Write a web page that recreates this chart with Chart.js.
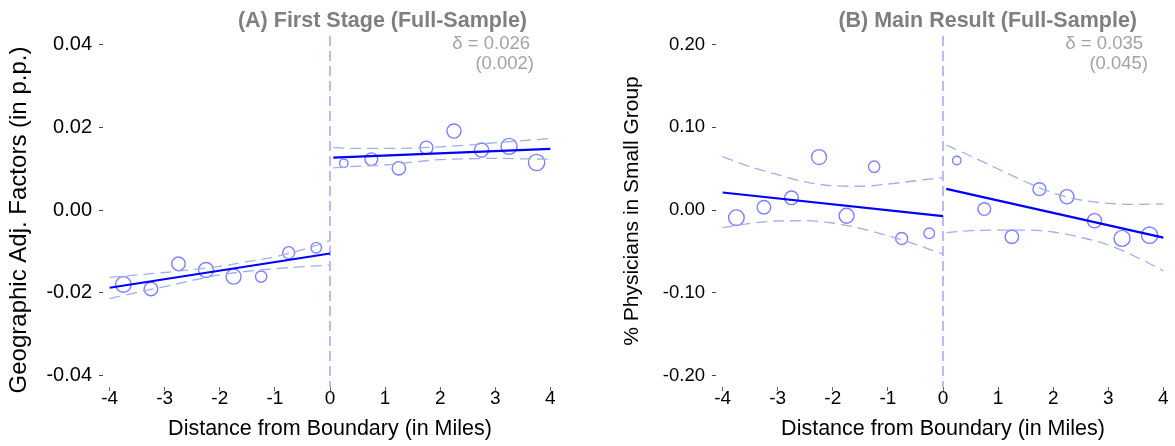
<!DOCTYPE html>
<html>
<head>
<meta charset="utf-8">
<script src="https://cdn.jsdelivr.net/npm/chart.js@4.4.1/dist/chart.umd.min.js"></script>
<style>
  html, body { margin: 0; padding: 0; background: #fff; overflow: hidden; }
  #wrap { position: relative; width: 1175px; height: 446px; overflow: hidden; }
  #panelA { position: absolute; left: 0; top: 0; }
  #panelB { position: absolute; left: 587px; top: 0; }
</style>
</head>
<body>
<div id="wrap">
  <canvas id="panelA" width="587" height="446"></canvas>
  <canvas id="panelB" width="600" height="446"></canvas>
</div>
<script>
// bins of distance from the boundary (miles)
const binCenters = [-3.75, -3.25, -2.75, -2.25, -1.75, -1.25, -0.75, -0.25,
                    0.25, 0.75, 1.25, 1.75, 2.25, 2.75, 3.25, 3.75];
// relative number of observations per bin (marker area)
const binObs = [61, 46, 46, 56, 56, 32, 36, 28, 18, 40, 45, 42, 50, 50, 64, 66];

const xTicks = [-4, -3, -2, -1, 0, 1, 2, 3, 4];
const xRange = [-4.12, 4.12];

// grids for fitted lines / confidence bands
const bandXLeft = [-4, -3.5, -3, -2.5, -2, -1.5, -1, -0.5, 0];
const bandXRight = [0.06, 0.5, 1, 1.5, 2, 2.5, 3, 3.5, 4];
const fitXLeft = [-4, 0];
const fitXRight = [0.06, 4];

// (A) first stage: geographic adjustment factors
const gafMeans = [-0.0180, -0.0191, -0.0130, -0.0145, -0.0161, -0.0161, -0.0103, -0.0091,
                  0.0113, 0.0123, 0.0101, 0.0151, 0.0191, 0.0145, 0.0154, 0.0115];
const gafFitLeft = [-0.0188, -0.0105];
const gafFitRight = [0.0127, 0.0148];
const gafUpperLeft = [-0.0163, -0.0157, -0.0151, -0.0144, -0.0136, -0.0125, -0.0113, -0.0096, -0.0074];
const gafLowerLeft = [-0.0214, -0.0199, -0.0185, -0.0170, -0.0157, -0.0148, -0.0142, -0.0137, -0.0133];
const gafUpperRight = [0.0151, 0.0149, 0.0149, 0.0150, 0.0153, 0.0157, 0.0163, 0.0168, 0.0173];
const gafLowerRight = [0.0102, 0.0106, 0.0109, 0.0116, 0.0122, 0.0124, 0.0125, 0.0124, 0.0123];
const gafTicks = [-0.04, -0.02, 0, 0.02, 0.04];
const gafRange = [-0.0428, 0.0421];

// (B) main result: share of physicians in small groups
const sgMeans = [-0.0093, 0.0033, 0.0147, 0.0640, -0.0069, 0.0524, -0.0345, -0.0282,
                 0.0598, 0.0012, -0.0323, 0.0252, 0.0161, -0.0129, -0.0343, -0.0304];
const sgFitLeft = [0.0212, -0.0073];
const sgFitRight = [0.0256, -0.0334];
const sgUpperLeft = [0.0645, 0.0524, 0.0427, 0.0339, 0.0294, 0.0287, 0.0314, 0.0354, 0.0391];
const sgLowerLeft = [-0.0214, -0.0161, -0.0133, -0.0129, -0.0157, -0.0222, -0.0311, -0.0415, -0.0532];
const sgUpperRight = [0.0786, 0.0653, 0.0496, 0.0342, 0.0206, 0.0121, 0.0081, 0.0069, 0.0073];
const sgLowerRight = [-0.0274, -0.0250, -0.0242, -0.0242, -0.0266, -0.0330, -0.0423, -0.0565, -0.0734];
const sgTicks = [-0.2, -0.1, 0, 0.1, 0.2];
const sgRange = [-0.214, 0.2104];

const FONT = '"Liberation Sans", Arial, Helvetica, sans-serif';

const pts = (xs, ys) => xs.map((x, i) => ({ x, y: ys[i] }));

// dashed boundary line, titles and the delta annotation
const panelText = {
  id: "panelText",
  beforeDatasetsDraw(chart, args, o) {
    const { ctx, chartArea } = chart;
    const x0 = chart.scales.x.getPixelForValue(0);
    ctx.save();
    ctx.strokeStyle = "#8c8cff";
    ctx.lineWidth = 1.2;
    ctx.setLineDash([10, 5]);
    ctx.beginPath();
    ctx.moveTo(x0, chartArea.top);
    ctx.lineTo(x0, chartArea.bottom);
    ctx.stroke();
    ctx.restore();
  },
  afterDraw(chart, args, o) {
    const { ctx, chartArea } = chart;
    ctx.save();
    ctx.textBaseline = "middle";
    ctx.textAlign = "right";
    ctx.fillStyle = "#7f7f7f";
    ctx.font = "bold 21.5px " + FONT;
    ctx.fillText(o.title, o.titleRight, 21);
    ctx.fillStyle = "#a3a3a3";
    ctx.font = "18.5px " + FONT;
    ctx.fillText("\u03B4 = " + o.delta, o.deltaRight, 44);
    ctx.fillText("(" + o.se + ")", o.seRight, 64);

    ctx.fillStyle = "#000";
    ctx.textAlign = "center";
    ctx.font = "21.5px " + FONT;
    ctx.fillText(o.xTitle, (chartArea.left + chartArea.right) / 2, 429);
    ctx.translate(o.yTitleX, o.yTitleY);
    ctx.rotate(-Math.PI / 2);
    ctx.font = o.yTitleSize + "px " + FONT;
    ctx.fillText(o.yTitle, 0, 0);
    ctx.restore();
  },
};

function makePanel(id, p) {
  const dash = (data) => ({
    data, showLine: true, pointRadius: 0, borderColor: "#9db2ea",
    borderWidth: 1.3, borderDash: [11, 6], cubicInterpolationMode: "monotone",
  });
  const fit = (data) => ({
    data, showLine: true, pointRadius: 0, borderColor: "#0000ff", borderWidth: 2.2,
  });

  return new Chart(document.getElementById(id).getContext("2d"), {
    type: "scatter",
    data: {
      datasets: [
        dash(pts(bandXLeft, p.upperLeft)),
        dash(pts(bandXLeft, p.lowerLeft)),
        dash(pts(bandXRight, p.upperRight)),
        dash(pts(bandXRight, p.lowerRight)),
        fit(pts(fitXLeft, p.fitLeft)),
        fit(pts(fitXRight, p.fitRight)),
        {
          data: pts(binCenters, p.means),
          pointRadius: binObs.map((w) => Math.sqrt(w)),
          pointBackgroundColor: "rgba(0,0,0,0)",
          pointBorderColor: "#8080ff",
          pointBorderWidth: 1.4,
        },
      ],
    },
    plugins: [panelText],
    options: {
      responsive: false,
      animation: false,
      devicePixelRatio: 1,
      events: [],
      layout: { padding: { top: 36, right: p.padRight, left: 0, bottom: 0 } },
      plugins: {
        legend: { display: false },
        tooltip: { enabled: false },
        panelText: p.text,
      },
      scales: {
        x: {
          type: "linear",
          min: xRange[0],
          max: xRange[1],
          afterFit: (s) => { s.height = 59; s.paddingLeft = 0; s.paddingRight = 0; },
          afterBuildTicks: (s) => { s.ticks = xTicks.map((v) => ({ value: v })); },
          border: { display: false },
          grid: { drawOnChartArea: false, drawTicks: true, tickLength: 4, color: "#666" },
          ticks: { color: "#000", padding: -4, font: { family: FONT, size: 19 }, callback: (v) => String(v) },
        },
        y: {
          type: "linear",
          min: p.range[0],
          max: p.range[1],
          afterFit: (s) => { s.width = p.yWidth; },
          afterBuildTicks: (s) => { s.ticks = p.ticks.map((v) => ({ value: v })); },
          border: { display: false },
          grid: { drawOnChartArea: false, drawTicks: true, tickLength: 4, color: "#444" },
          ticks: { color: "#000", padding: 7, font: { family: FONT, size: p.tickSize }, callback: (v) => v.toFixed(2) },
        },
      },
    },
  });
}

makePanel("panelA", {
  means: gafMeans,
  fitLeft: gafFitLeft, fitRight: gafFitRight,
  upperLeft: gafUpperLeft, lowerLeft: gafLowerLeft,
  upperRight: gafUpperRight, lowerRight: gafLowerRight,
  ticks: gafTicks, range: gafRange,
  yWidth: 103, padRight: 30, tickSize: 20,
  text: {
    title: "(A) First Stage (Full-Sample)", titleRight: 527,
    delta: "0.026", deltaRight: 530, se: "0.002", seRight: 534,
    xTitle: "Distance from Boundary (in Miles)",
    yTitle: "Geographic Adj. Factors (in p.p.)", yTitleX: 19, yTitleY: 220, yTitleSize: 24,
  },
});

makePanel("panelB", {
  means: sgMeans,
  fitLeft: sgFitLeft, fitRight: sgFitRight,
  upperLeft: sgUpperLeft, lowerLeft: sgLowerLeft,
  upperRight: sgUpperRight, lowerRight: sgLowerRight,
  ticks: sgTicks, range: sgRange,
  yWidth: 129, padRight: 17, tickSize: 18.5,
  text: {
    title: "(B) Main Result (Full-Sample)", titleRight: 550,
    delta: "0.035", deltaRight: 556, se: "0.045", seRight: 561,
    xTitle: "Distance from Boundary (in Miles)",
    yTitle: "% Physicians in Small Group", yTitleX: 45, yTitleY: 211, yTitleSize: 21,
  },
});
</script>
</body>
</html>
